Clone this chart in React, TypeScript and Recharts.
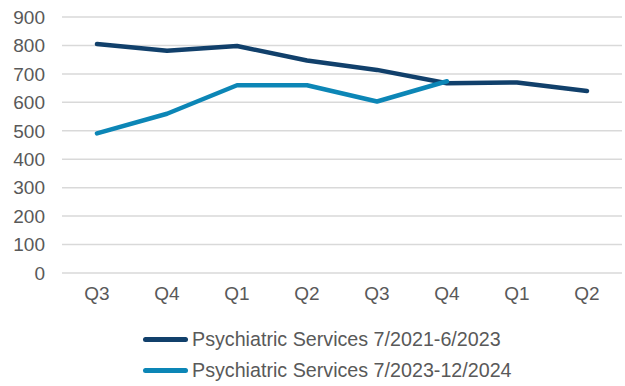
import { LineChart, Line, XAxis, YAxis, CartesianGrid, Legend } from 'recharts';

const quarters = ['Q3', 'Q4', 'Q1', 'Q2', 'Q3', 'Q4', 'Q1', 'Q2'];
const services2021 = [805, 781, 798, 747, 714, 667, 670, 640];
const services2023 = [491, 560, 660, 660, 603, 674, null, null];
const yTicks = [0, 100, 200, 300, 400, 500, 600, 700, 800, 900];

const seriesNames = ['Psychiatric Services 7/2021-6/2023', 'Psychiatric Services 7/2023-12/2024'];
const seriesColors = ['#11406b', '#0c86b6'];

const data = quarters.map((q, i) => ({
    q,
    a: services2021[i],
    b: services2023[i],
}));

const font = '"Liberation Sans", Arial, sans-serif';

function LegendBox() {
    return (
        <div style={{ height: 73, paddingTop: 11, boxSizing: 'border-box', display: 'flex', flexDirection: 'column', alignItems: 'flex-start', marginLeft: 143 }}>
            {seriesNames.map((name, i) => (
                <div key={name} style={{ display: 'flex', alignItems: 'center', height: 37 }}>
                    <div style={{ width: 45, height: 5, borderRadius: 3, background: seriesColors[i], marginRight: 4 }} />
                    <span style={{ fontFamily: font, fontSize: 19.7, color: '#595959', whiteSpace: 'nowrap' }}>{name}</span>
                </div>
            ))}
        </div>
    );
}

export default function App() {
    return (
        <div style={{ position: 'absolute', left: 0, top: 0, background: '#fff' }}>
            <LineChart width={625} height={386} data={data} margin={{ top: 17, right: 3, bottom: 0, left: 0 }}>
                <CartesianGrid vertical={false} stroke="#d9d9d9" strokeWidth={1.5} />
                <XAxis
                    dataKey="q"
                    axisLine={false}
                    tickLine={false}
                    height={40}
                    tickMargin={8}
                    padding={{ left: 35, right: 35 }}
                    tick={{ fontSize: 19, fill: '#595959', fontFamily: font }}
                    interval={0}
                />
                <YAxis
                    domain={[0, 900]}
                    ticks={yTicks}
                    axisLine={false}
                    tickLine={false}
                    width={62}
                    tickMargin={11}
                    tick={{ fontSize: 19, fill: '#595959', fontFamily: font }}
                />
                <Legend verticalAlign="bottom" height={73} content={() => <LegendBox />} />
                <Line dataKey="a" name={seriesNames[0]} stroke={seriesColors[0]} strokeWidth={4.5} strokeLinecap="round" strokeLinejoin="round" dot={false} isAnimationActive={false} />
                <Line dataKey="b" name={seriesNames[1]} stroke={seriesColors[1]} strokeWidth={4.5} strokeLinecap="round" strokeLinejoin="round" dot={false} isAnimationActive={false} />
            </LineChart>
        </div>
    );
}
